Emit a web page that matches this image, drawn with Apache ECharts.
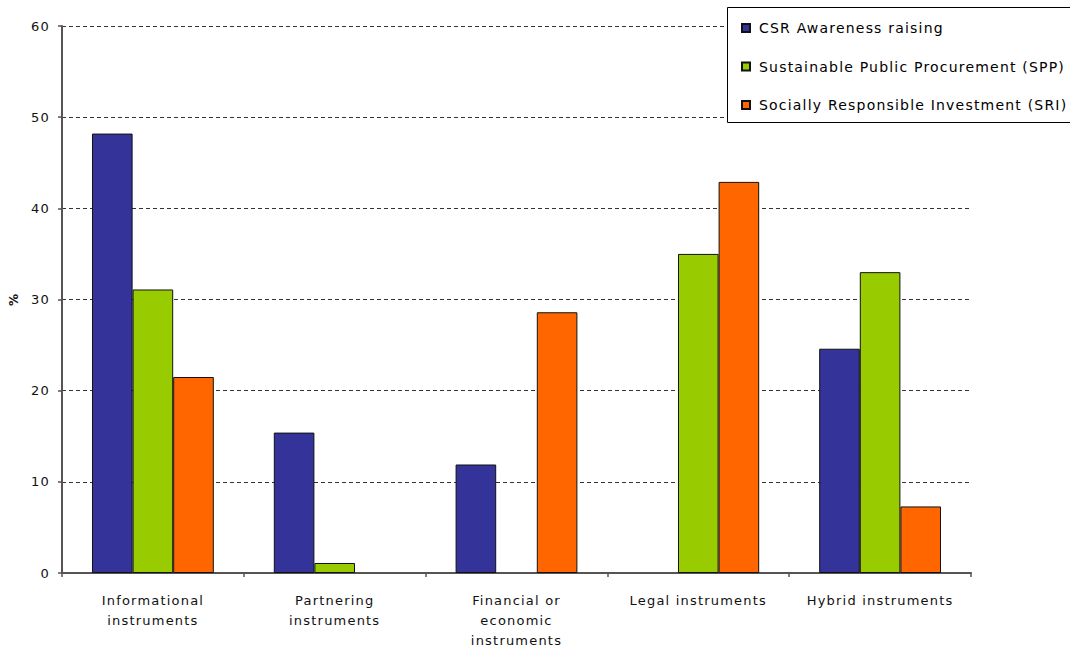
<!DOCTYPE html>
<html>
<head>
<meta charset="utf-8">
<script src="https://cdn.jsdelivr.net/npm/echarts@6/dist/echarts.min.js"></script>
<style>
  html, body { margin: 0; padding: 0; background: #fff; }
  #chart { width: 1070px; height: 653px; }
  #chart text { letter-spacing: 1.2px; }
</style>
</head>
<body>
<div id="chart"></div>
<script>
// Share of instruments used, by policy area (%)
const categories = [
  'Informational\ninstruments',
  'Partnering\ninstruments',
  'Financial or\neconomic\ninstruments',
  'Legal instruments',
  'Hybrid instruments'
];
const seriesNames = [
  'CSR Awareness raising',
  'Sustainable Public Procurement (SPP)',
  'Socially Responsible Investment (SRI)'
];
const csrAwareness           = [48.2, 15.4, 11.9, 0, 24.6];
const sustainableProcurement = [31.1, 1.1, 0, 35.0, 33.0];
const responsibleInvestment  = [21.5, 0, 28.6, 42.9, 7.3];
const yTickValues = [0, 10, 20, 30, 40, 50, 60];

const FONT = 'DejaVu Sans';
const colors = ['#333399', '#99CC00', '#FF6600'];
const values = [csrAwareness, sustainableProcurement, responsibleInvestment];

// zero-height bars get no outline so nothing is drawn on the baseline
const toBarData = arr => arr.map(v => v === 0 ? { value: v, itemStyle: { borderWidth: 0 } } : v);

const chart = echarts.init(document.getElementById('chart'), null, { renderer: 'svg' });

chart.setOption({
  animation: false,
  backgroundColor: '#fff',
  grid: { left: 62, right: 99, top: 26, bottom: 80 },
  // framed panel behind the legend, running off the right edge
  graphic: [{
    type: 'rect',
    left: 727,
    top: 7,
    z: 50,
    shape: { width: 380, height: 115 },
    style: { fill: '#fff', stroke: '#000', lineWidth: 1 }
  }],
  legend: {
    orient: 'vertical',
    left: 727,
    top: 7,
    z: 60,
    padding: [13, 10, 8, 14],
    itemGap: 22.5,
    itemWidth: 8,
    itemHeight: 8,
    icon: 'rect',
    textStyle: { fontFamily: FONT, fontSize: 14, lineHeight: 16, color: '#000', padding: [0, 0, 0, 4] },
    data: seriesNames
  },
  xAxis: {
    type: 'category',
    data: categories,
    axisLine: { lineStyle: { color: '#555', width: 2 } },
    axisTick: { show: true, length: 4, lineStyle: { color: '#555', width: 1.5 } },
    axisLabel: {
      interval: 0, fontFamily: FONT, fontSize: 13, lineHeight: 20,
      color: '#111', margin: 17
    }
  },
  yAxis: {
    type: 'value',
    min: yTickValues[0],
    max: yTickValues[yTickValues.length - 1],
    interval: yTickValues[1] - yTickValues[0],
    name: '%',
    nameLocation: 'middle',
    nameRotate: 90,
    nameGap: 42,
    nameTextStyle: { fontFamily: FONT, fontSize: 12, fontWeight: 'bold', color: '#111' },
    axisLine: { show: true, lineStyle: { color: '#555', width: 2 } },
    axisTick: { show: true, length: 4, lineStyle: { color: '#555', width: 1.5 } },
    axisLabel: { fontFamily: FONT, fontSize: 13, color: '#111', margin: 12 },
    splitLine: { show: true, lineStyle: { color: '#333', width: 1, type: [4, 3] } }
  },
  series: seriesNames.map((name, i) => ({
    name,
    type: 'bar',
    data: toBarData(values[i]),
    barGap: '0%',
    barCategoryGap: '33%',
    itemStyle: { color: colors[i], borderColor: '#111', borderWidth: 1 }
  }))
});
</script>
</body>
</html>
